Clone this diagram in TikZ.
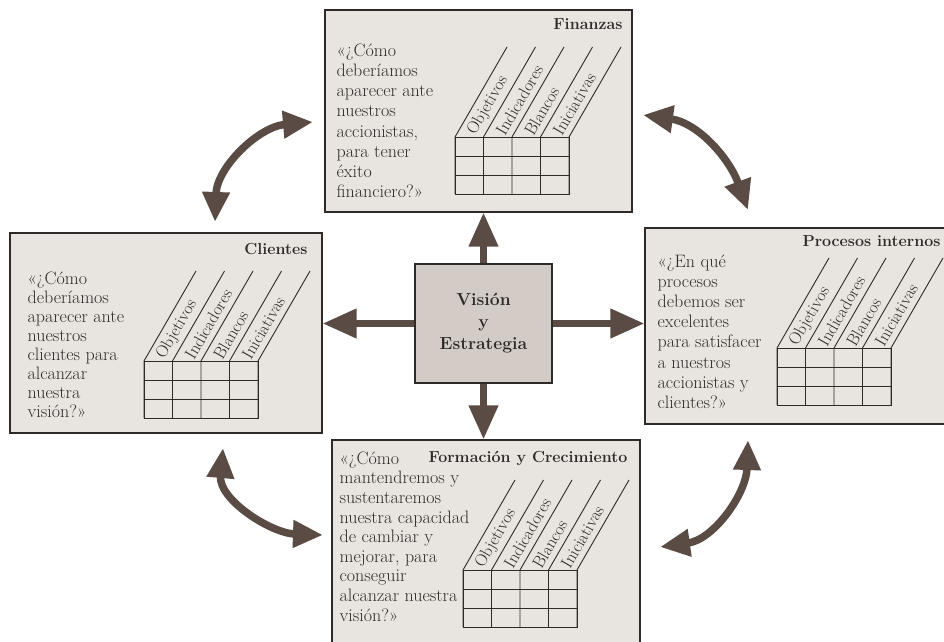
\documentclass[tikz,border=0pt]{standalone}
\usepackage{tikz}
\usetikzlibrary{arrows.meta}
\definecolor{paper}{HTML}{E8E4DF}
\definecolor{core}{HTML}{D3CBC5}
\definecolor{ink}{HTML}{2E2A28}
\definecolor{arrowc}{HTML}{5A4B44}

\begin{document}
\begin{tikzpicture}[x=1pt,y=1pt]
    \tikzstyle{panel}=[draw=ink,line width=1.1pt,fill=paper,inner sep=0pt]
    \tikzstyle{title}=[font=\fontsize{16}{19}\selectfont\bfseries,text=ink,inner sep=0pt]
    \tikzstyle{question}=[font=\fontsize{18}{20.2}\selectfont,text=ink,align=left,inner sep=0pt,anchor=north west]
    \tikzstyle{colname}=[font=\fontsize{17}{19}\selectfont,text=ink,rotate=60,anchor=west,inner sep=0pt]
    \tikzstyle{bigarrow}=[draw=arrowc,line width=7pt,-{Triangle[width=28pt,length=34pt]}]
    \tikzstyle{bentarrow}=[draw=arrowc,line width=7.5pt,{Triangle[width=26pt,length=30pt]}-{Triangle[width=26pt,length=30pt]}]
    \fill[white] (0,0) rectangle (944,641);
    \useasboundingbox (0,0) rectangle (944,641);

    \node[panel,minimum width=307pt,minimum height=202pt] (fin) at (478.5,530) {};
    \node[panel,minimum width=312pt,minimum height=200pt] (cli) at (166,308) {};
    \node[panel,minimum width=310pt,minimum height=196pt] (pro) at (800,315) {};
    \node[panel,minimum width=308pt,minimum height=215pt] (for) at (486,93.5) {};
    \node[panel,fill=core,minimum width=137pt,minimum height=119pt,font=\fontsize{17.5}{22}\selectfont\bfseries,text=ink,align=center] (vis) at (483.5,317.5) {Visión\\y\\Estrategia};

    \node[title,anchor=north east] (finT) at ([shift={(-10,-9)}]fin.north east) {Finanzas};
    \node[title,anchor=north east] (cliT) at ([shift={(-15,-11)}]cli.north east) {Clientes};
    \node[title,anchor=north east] (proT) at ([shift={(-15,-8)}]pro.north east) {Procesos internos};
    \node[title,anchor=north east] (forT) at ([shift={(-13,-12)}]for.north east) {Formación y Crecimiento};

    \node[question] (finQ) at ([shift={(12,-34)}]fin.north west) {«¿Cómo\\deberíamos\\aparecer ante\\nuestros\\accionistas,\\para tener\\éxito\\financiero?»};
    \node[question,font=\fontsize{18}{19}\selectfont] (cliQ) at ([shift={(18,-39)}]cli.north west) {«¿Cómo\\deberíamos\\aparecer ante\\nuestros\\clientes para\\alcanzar\\nuestra\\visión?»};
    \node[question] (proQ) at ([shift={(13,-27)}]pro.north west) {«¿En qué\\procesos\\debemos ser\\excelentes\\para satisfacer\\a nuestros\\accionistas y\\clientes?»};
    \node[question,font=\fontsize{18}{19.6}\selectfont] (forQ) at ([shift={(8,-12)}]for.north west) {«¿Cómo\\mantendremos y\\sustentaremos\\nuestra capacidad\\de cambiar y\\mejorar, para\\conseguir\\alcanzar nuestra\\visión?»};

    \foreach \gx/\gy/\k in {455/447/fin,144/223/cli,777/236/pro,463/14/for}{
        \draw[ink,line width=0.9pt] (\gx,\gy) rectangle ++(114,57);
        \foreach \j in {1,2} \draw[ink,line width=0.9pt] (\gx,\gy+\j*19) -- ++(114,0);
        \foreach \i in {0,...,4} \draw[ink,line width=0.9pt] (\gx+\i*28.5,\gy) -- ++(0,57) -- ++(52,90);
        \foreach \lab [count=\i from 0] in {Objetivos,Indicadores,Blancos,Iniciativas}
            \node[colname] (\k-\i) at (\gx+\i*28.5+16.5,\gy+60) {\lab};
    }

    \draw[bigarrow] (vis.north) -- (vis.north |- fin.south);
    \draw[bigarrow] (vis.south) -- (vis.south |- for.north);
    \draw[bigarrow] (vis.west) -- (vis.west -| cli.east);
    \draw[bigarrow] (vis.east) -- (vis.east -| pro.west);

    \coordinate (tl1) at (215,419);
    \coordinate (tl2) at (313,519);
    \coordinate (tr1) at (643,526);
    \coordinate (tr2) at (748,431);
    \coordinate (bl1) at (223,193);
    \coordinate (bl2) at (323,106);
    \coordinate (br1) at (748,201);
    \coordinate (br2) at (660,94);
    \draw[bentarrow] (tl1) to[out=88,in=185] (tl2);
    \draw[bentarrow] (tr1) to[out=-8,in=110] (tr2);
    \draw[bentarrow] (bl1) to[out=-95,in=178] (bl2);
    \draw[bentarrow] (br1) to[out=-92,in=8] (br2);
\end{tikzpicture}
\end{document}
